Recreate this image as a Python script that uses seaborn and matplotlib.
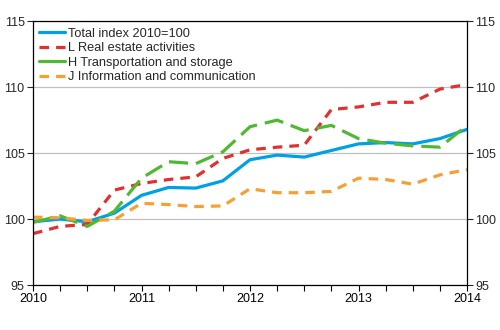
import matplotlib
matplotlib.use("Agg")
import matplotlib.pyplot as plt
import seaborn as sns
import numpy as np
import pandas as pd
from matplotlib.ticker import MultipleLocator

sns.set_style("white")
plt.rcParams['font.family'] = ['Liberation Sans', 'DejaVu Sans']

quarters = np.arange(17) * 0.25 + 2010
total = [99.8, 100.0, 99.8, 100.45, 101.8, 102.4, 102.35, 102.9, 104.5,
         104.85, 104.7, 105.2, 105.7, 105.8, 105.7, 106.1, 106.8]
real_estate = [98.9, 99.45, 99.6, 102.2, 102.7, 103.0, 103.2, 104.6, 105.25,
               105.45, 105.6, 108.3, 108.5, 108.85, 108.85, 109.85, 110.2]
transport = [99.75, 100.25, 99.45, 100.6, 103.1, 104.35, 104.2, 105.1, 107.0,
             107.5, 106.7, 107.1, 106.1, 105.75, 105.55, 105.45, 107.1]
info = [100.15, 100.1, 99.9, 99.95, 101.2, 101.1, 100.95, 101.0, 102.3,
        102.0, 102.0, 102.1, 103.1, 103.0, 102.65, 103.35, 103.75]

labels = ["Total index 2010=100", "L Real estate activities",
          "H Transportation and storage", "J Information and communication"]
colors = ["#00a0e6", "#e03030", "#50b832", "#f5a030"]
dashes = [None, (3, 2.2), (6, 2.5), (3, 2.2)]
legend_dashes = [None, (3, 2.2), None, (3, 2.2)]
series = [total, real_estate, transport, info]

fig = plt.figure(figsize=(5, 3.3), dpi=100)
ax = fig.add_axes([0.066, 0.136, 0.868, 0.8])

for vals, lab, col, d in zip(series, labels, colors, dashes):
    df = pd.DataFrame({"x": quarters, "y": vals})
    sns.lineplot(data=df, x="x", y="y", ax=ax, color=col, lw=2.3, label=lab)
    l = ax.get_lines()[-1]
    if d is not None:
        l.set_dashes(d)

ax.set_xlim(2010, 2014)
ax.set_ylim(95, 115)
ax.set_xlabel("")
ax.set_ylabel("")
ax.xaxis.set_minor_locator(MultipleLocator(0.25))
ax.set_xticks([2010, 2011, 2012, 2013, 2014])
ax.set_xticklabels(["2010", "2011", "2012", "2013", "2014"])
ax.yaxis.set_major_locator(MultipleLocator(5))
ax.tick_params(axis="x", which="both", direction="out", length=4, width=0.8,
               bottom=True, labelsize=9, pad=2, colors="black")
ax.tick_params(axis="y", which="both", direction="out", length=4, width=0.8,
               left=True, right=True, labelleft=True, labelright=True,
               labelsize=9, pad=2)
ax.grid(axis="y", color="#c0c0c0", lw=0.9)
ax.set_axisbelow(True)
for s in ax.spines.values():
    s.set_color("black")
    s.set_linewidth(0.9)

leg = ax.legend(loc="upper left", frameon=False, fontsize=9.2, handlelength=2.0,
                handletextpad=0.2, labelspacing=0.2, borderaxespad=0.1)
for h, d in zip(leg.get_lines(), legend_dashes):
    if d is None:
        h.set_linestyle("-")
    else:
        h.set_dashes(d)

fig.savefig("out.png", dpi=100)
